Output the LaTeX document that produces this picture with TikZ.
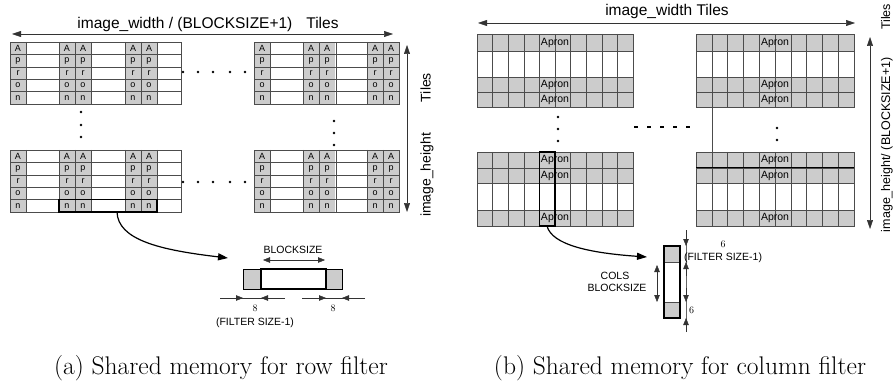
\documentclass[tikz,border=0pt]{standalone}
\usepackage{fontspec}
\setsansfont{Liberation Sans}
\usetikzlibrary{arrows.meta, positioning}

\definecolor{apronfill}{gray}{0.80}

% one tile of the row filter: name, width, shaded columns, inner column lines
\newcommand{\rowtile}[4]{%
  \foreach \c in {#3}
    \fill[apron] (\c,0) rectangle ++(16,62);
  \foreach \r in {1,...,4} \draw[gridline] (0,\r*12.4) -- (#2,\r*12.4);
  \foreach \c in {#4} \draw[gridline] (\c,0) -- (\c,62);
  \draw[gridline] (0,0) rectangle (#2,62);
  \foreach \c in {#3}
    \foreach \ltr [count=\r] in {A,p,r,o,n}
      \node[cellletter] (#1-\c-\r) at (\c+8,\r*12.4-6.2) {\ltr};
}

% one tile of the column filter: name, width, height, shaded bands, row lines
\newcommand{\coltile}[5]{%
  \foreach \tp/\bt in {#4}
    \fill[apron] (0,\tp) rectangle (#2,\bt);
  \foreach \r in {#5} \draw[gridline] (0,\r) -- (#2,\r);
  \foreach \c in {1,...,9} \draw[gridline] (\c*#2/10,0) -- (\c*#2/10,#3);
  \draw[gridline] (0,0) rectangle (#2,#3);
  \foreach \tp/\bt [count=\k] in {#4}
    \node[apronlabel] (#1-\k) at ({#2/2},{(\tp+\bt)/2}) {Apron};
}

\begin{document}
\begin{tikzpicture}[
        x=1pt, y=-1pt,
        apron/.style={fill=apronfill},
        gridline/.style={draw=black!70, line width=0.45pt},
        pick/.style={draw=black, line width=1.3pt},
        spanarrow/.style={draw=black!80, line width=0.5pt,
            {Triangle[length=9pt,width=6pt]}-{Triangle[length=9pt,width=6pt]}},
        gauge/.style={draw=black!80, line width=0.45pt,
            {Triangle[length=7pt,width=5.5pt]}-{Triangle[length=7pt,width=5.5pt]}},
        onetip/.style={draw=black!80, line width=0.45pt, -{Triangle[length=7pt,width=5.5pt]}},
        move/.style={draw=black, line width=1.2pt, -{Triangle[length=10pt,width=7pt]}},
        lbl/.style={font=\sffamily\fontsize{15.5}{16}\selectfont, inner sep=0pt},
        small/.style={font=\sffamily\fontsize{10.5}{11}\selectfont, inner sep=0pt},
        digit/.style={font=\fontsize{10}{10}\selectfont, inner sep=0pt},
        cellletter/.style={font=\sffamily\fontsize{9}{9}\selectfont, inner sep=0pt},
        apronlabel/.style={font=\sffamily\fontsize{10.5}{10.5}\selectfont, inner sep=0pt},
        capt/.style={font=\fontsize{25.5}{28}\selectfont, inner sep=0pt, anchor=base}
    ]
    \useasboundingbox (0,0) rectangle (893,390);

    % (a) row filter
    \begin{scope}[shift={(10,42)}]
        \rowtile{tl}{171}{0,49,65,115,131}{16,49,65,81,115,131,147}
    \end{scope}
    \begin{scope}[shift={(254,42)}]
        \rowtile{tr}{145}{0,49,65,113,129}{16,49,65,82,113,129}
    \end{scope}
    \begin{scope}[shift={(10,150)}]
        \rowtile{bl}{171}{0,49,65,115,131}{16,49,65,81,115,131,147}
    \end{scope}
    \begin{scope}[shift={(254,150)}]
        \rowtile{br}{145}{0,49,65,113,129}{16,49,65,82,113,129}
    \end{scope}

    \foreach \x in {183,198,213,230,245} {
        \fill (\x,72) circle (1.3);
        \fill (\x,182) circle (1.3);
    }
    \foreach \y in {112,125,137} \fill (81,\y) circle (1.3);
    \foreach \y in {121,133,145} \fill (334,\y) circle (1.3);

    \coordinate (wA1) at (12,34);
    \coordinate (wA2) at (393,34);
    \draw[spanarrow] (wA1) -- (wA2);
    \node[lbl] (widthA) at (208,24) {image\_width / (BLOCKSIZE+1)\hspace{0.9em}Tiles};

    \coordinate (hA1) at (407,45);
    \coordinate (hA2) at (407,212);
    \draw[spanarrow] (hA1) -- (hA2);
    \node[lbl, font=\sffamily\fontsize{14}{14}\selectfont, rotate=90] (heightA) at (427,145)
        {image\_height\hspace{2.2em}Tiles};

    \draw[pick] (59,199.6) rectangle (157,212);
    \coordinate (pickA) at (117,212);
    \coordinate (bufA) at (228,258);
    \draw[move] (pickA) .. controls (118,240) and (160,250) .. (bufA);

    % row buffer
    \fill[apron] (243,269) rectangle (261,289);
    \fill[apron] (326,269) rectangle (342,289);
    \draw[line width=0.7pt] (243,269) rectangle (342,289);
    \draw[pick] (261,269) rectangle (326,289);

    \coordinate (bsA1) at (263,260);
    \coordinate (bsA2) at (325,260);
    \draw[gauge] (bsA1) -- (bsA2);
    \node[small] (bsA) at (293,250) {BLOCKSIZE};

    \draw[gridline, draw=black!80] (220,298) -- (285,298);
    \draw[onetip] (220,298) -- (243,298);
    \draw[onetip] (285,298) -- (261,298);
    \draw[gridline, draw=black!80] (302,298) -- (365,298);
    \draw[onetip] (302,298) -- (326,298);
    \draw[onetip] (365,298) -- (342,298);
    \node[digit] (fA1) at (255,308) {8};
    \node[digit] (fA2) at (333,308) {8};
    \node[small] (fsA) at (255,323) {(FILTER SIZE-1)};

    \node[capt] (capA) at (221,374) {(a) Shared memory for row filter};

    % (b) column filter
    \begin{scope}[shift={(477,34)}]
        \coltile{ctl}{156}{73}{0/17,43/58,58/73}{17,43,58}
    \end{scope}
    \begin{scope}[shift={(696,34)}]
        \coltile{ctr}{158}{73}{0/17,43/58,58/73}{17,43,58}
    \end{scope}
    \begin{scope}[shift={(477,152)}]
        \coltile{cbl}{156}{74}{0/16,16/31,58/74}{16,31,58}
    \end{scope}
    \begin{scope}[shift={(696,152)}]
        \coltile{cbr}{158}{74}{0/16,16/31,58/74}{16,31,58}
        \draw[line width=1pt] (0,16) -- (158,16);
    \end{scope}
    \draw[gridline] (711.8,107) -- (711.8,152);

    \foreach \y in {117,129,141} \fill (558,\y) circle (1.3);
    \foreach \y in {128,140} \fill (777,\y) circle (1.3);
    \foreach \x in {636,649,662,675,688} \fill (\x-1.8,125.8) rectangle ++(3.6,2.4);

    \coordinate (wB1) at (478,23);
    \coordinate (wB2) at (855,23);
    \draw[spanarrow] (wB1) -- (wB2);
    \node[lbl] (widthB) at (667,11) {image\_width Tiles};

    \coordinate (hB1) at (870,37);
    \coordinate (hB2) at (870,229);
    \draw[spanarrow] (hB1) -- (hB2);
    \node[lbl, font=\sffamily\fontsize{12.5}{12.5}\selectfont, rotate=90] (heightB) at (887,118)
        {image\_height/ (BLOCKSIZE+1)\hspace{2.2em}Tiles};

    \draw[pick] (539.4,152) rectangle (555,226);
    \coordinate (pickB) at (547,226);
    \coordinate (bufB) at (647,257);
    \draw[move] (pickB) .. controls (552,245) and (590,253) .. (bufB);

    % column buffer
    \fill[apron] (664,246) rectangle (680,262);
    \fill[apron] (664,302) rectangle (680,318);
    \draw[gridline] (664,262) -- (680,262);
    \draw[gridline] (664,302) -- (680,302);
    \draw[pick] (664,246) rectangle (680,318);

    \draw[gridline, draw=black!60] (686,230) -- (686,332);
    \draw[onetip] (686,230) -- (686,246);
    \draw[onetip] (686,276) -- (686,262);
    \draw[onetip] (686,288) -- (686,302);
    \draw[onetip] (686,332) -- (686,318);
    \node[digit] (fB1) at (723,244) {6};
    \node[small] (fsB) at (723,258) {(FILTER SIZE-1)};
    \node[digit, anchor=west] (fB2) at (689,310) {6};

    \coordinate (bsB1) at (657,265);
    \coordinate (bsB2) at (657,302);
    \draw[gauge] (bsB1) -- (bsB2);
    \node[small] (colsB) at (615,276) {COLS};
    \node[small] (bsB) at (617,288) {BLOCKSIZE};

    \node[capt] (capB) at (680,374) {(b) Shared memory for column filter};

\end{tikzpicture}
\end{document}
